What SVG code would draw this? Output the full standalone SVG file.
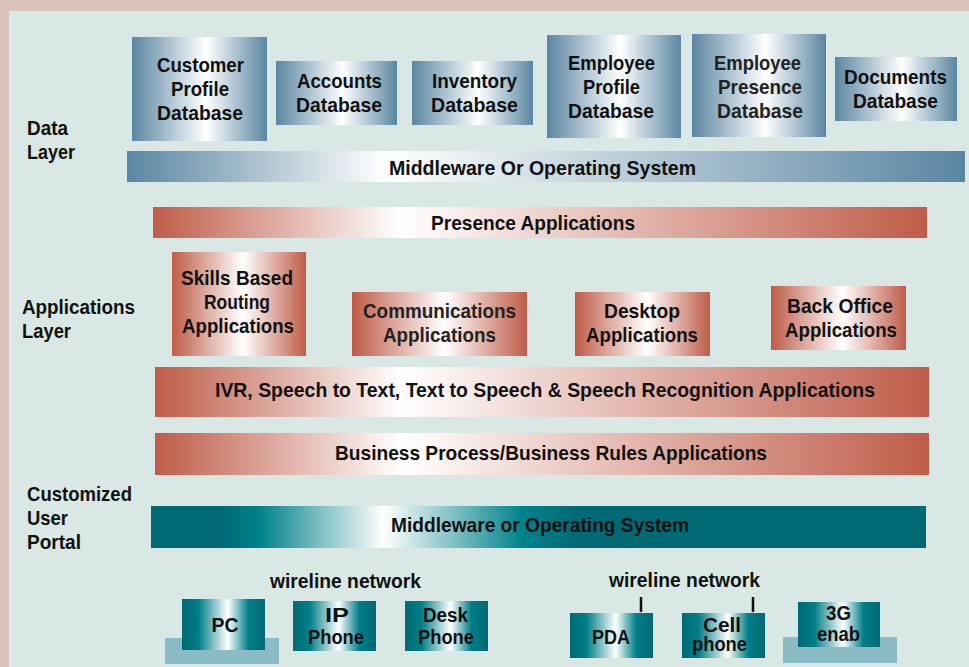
<svg xmlns="http://www.w3.org/2000/svg" width="969" height="667" viewBox="0 0 969 667">
  <defs>
    <!-- steel blue blocks: dark edges, bright centre -->
    <linearGradient id="gBlue" x1="0" y1="0" x2="1" y2="0">
      <stop offset="0" stop-color="#5a86a2"/>
      <stop offset="0.55" stop-color="#ffffff"/>
      <stop offset="1" stop-color="#5a86a2"/>
    </linearGradient>
    <linearGradient id="gBlueBar" x1="0" y1="0" x2="1" y2="0">
      <stop offset="0" stop-color="#5a86a2"/>
      <stop offset="0.31" stop-color="#ffffff"/>
      <stop offset="1" stop-color="#5a86a2"/>
    </linearGradient>
    <!-- terracotta application blocks -->
    <linearGradient id="gRed" x1="0" y1="0" x2="1" y2="0">
      <stop offset="0" stop-color="#bf5c48"/>
      <stop offset="0.53" stop-color="#ffffff"/>
      <stop offset="1" stop-color="#bf5c48"/>
    </linearGradient>
    <linearGradient id="gRedBar" x1="0" y1="0" x2="1" y2="0">
      <stop offset="0" stop-color="#bf5c48"/>
      <stop offset="0.32" stop-color="#ffffff"/>
      <stop offset="1" stop-color="#bf5c48"/>
    </linearGradient>
    <!-- teal portal blocks -->
    <linearGradient id="gTeal" x1="0" y1="0" x2="1" y2="0">
      <stop offset="0" stop-color="#006a74"/>
      <stop offset="0.2" stop-color="#007e88"/>
      <stop offset="0.55" stop-color="#ffffff"/>
      <stop offset="0.8" stop-color="#007e88"/>
      <stop offset="1" stop-color="#006a74"/>
    </linearGradient>
    <linearGradient id="gTealBar" x1="0" y1="0" x2="1" y2="0">
      <stop offset="0" stop-color="#006a74"/>
      <stop offset="0.09" stop-color="#006a74"/>
      <stop offset="0.14" stop-color="#00828b"/>
      <stop offset="0.30" stop-color="#ffffff"/>
      <stop offset="0.48" stop-color="#00828b"/>
      <stop offset="0.55" stop-color="#006a74"/>
      <stop offset="1" stop-color="#006a74"/>
    </linearGradient>
    <style>
      text { font-family: "Liberation Sans", Arial, sans-serif; font-weight: bold; fill: #111; font-size: 21px; }
      .c { text-anchor: middle; }
      .tight { font-size: 20px; }
      .blue { fill: url(#gBlue); }
      .blueBar { fill: url(#gBlueBar); }
      .red { fill: url(#gRed); }
      .redBar { fill: url(#gRedBar); }
      .teal { fill: url(#gTeal); }
      .tealBar { fill: url(#gTealBar); }
      .plinth { fill: #8bbcc5; }
      .tick { stroke: #111; stroke-width: 2.5; }
    </style>
  </defs>

  <!-- frame and panel -->
  <rect x="0" y="0" width="969" height="667" fill="#d8c2ba"/>
  <rect x="9" y="11" width="960" height="656" fill="#d9e8e4"/>

  <!-- layer captions -->
  <g id="captions">
    <text x="27" y="135" textLength="41" lengthAdjust="spacingAndGlyphs">Data</text>
    <text x="27" y="159" textLength="48" lengthAdjust="spacingAndGlyphs">Layer</text>
    <text x="22" y="314" textLength="113" lengthAdjust="spacingAndGlyphs">Applications</text>
    <text x="22" y="338" textLength="49" lengthAdjust="spacingAndGlyphs">Layer</text>
    <text x="27" y="501" textLength="105" lengthAdjust="spacingAndGlyphs">Customized</text>
    <text x="27" y="525" textLength="41" lengthAdjust="spacingAndGlyphs">User</text>
    <text x="27" y="549" textLength="54" lengthAdjust="spacingAndGlyphs">Portal</text>
  </g>

  <!-- data layer -->
  <g id="customer-profile-db">
    <rect class="blue" x="132" y="37" width="135" height="104"/>
    <text class="c" x="200.5" y="72" textLength="87" lengthAdjust="spacingAndGlyphs">Customer</text>
    <text class="c" x="200" y="96" textLength="58" lengthAdjust="spacingAndGlyphs">Profile</text>
    <text class="c" x="200" y="120" textLength="86" lengthAdjust="spacingAndGlyphs">Database</text>
  </g>
  <g id="accounts-db">
    <rect class="blue" x="276" y="61" width="121" height="64"/>
    <text class="c" x="339.5" y="88" textLength="85" lengthAdjust="spacingAndGlyphs">Accounts</text>
    <text class="c" x="339" y="112" textLength="86" lengthAdjust="spacingAndGlyphs">Database</text>
  </g>
  <g id="inventory-db">
    <rect class="blue" x="412" y="61" width="121" height="64"/>
    <text class="c" x="474.5" y="88" textLength="85" lengthAdjust="spacingAndGlyphs">Inventory</text>
    <text class="c" x="474.5" y="112" textLength="87" lengthAdjust="spacingAndGlyphs">Database</text>
  </g>
  <g id="employee-profile-db">
    <rect class="blue" x="547" y="35" width="134" height="103"/>
    <text class="c" x="611.5" y="70" textLength="87" lengthAdjust="spacingAndGlyphs">Employee</text>
    <text class="c" x="611.5" y="94" textLength="57" lengthAdjust="spacingAndGlyphs">Profile</text>
    <text class="c" x="611" y="118" textLength="86" lengthAdjust="spacingAndGlyphs">Database</text>
  </g>
  <g id="employee-presence-db">
    <rect class="blue" x="692" y="34" width="134" height="103"/>
    <text class="c" x="757.5" y="70" textLength="87" lengthAdjust="spacingAndGlyphs" style="fill:#222">Employee</text>
    <text class="c" x="760" y="94" textLength="84" lengthAdjust="spacingAndGlyphs" style="fill:#222">Presence</text>
    <text class="c" x="760" y="118" textLength="86" lengthAdjust="spacingAndGlyphs" style="fill:#222">Database</text>
  </g>
  <g id="documents-db">
    <rect class="blue" x="835" y="57" width="122" height="64"/>
    <text class="c" x="895.5" y="84" textLength="103" lengthAdjust="spacingAndGlyphs">Documents</text>
    <text class="c" x="895.5" y="108" textLength="85" lengthAdjust="spacingAndGlyphs">Database</text>
  </g>
  <g id="data-middleware">
    <rect class="blueBar" x="127" y="151" width="838" height="31"/>
    <text class="c" x="542.5" y="175" textLength="307" lengthAdjust="spacingAndGlyphs">Middleware Or  Operating System</text>
  </g>

  <!-- applications layer -->
  <g id="presence-apps">
    <rect class="redBar" x="153" y="207" width="774" height="31"/>
    <text class="c" x="533" y="230" textLength="204" lengthAdjust="spacingAndGlyphs">Presence Applications</text>
  </g>
  <g id="skills-routing">
    <rect class="red" x="172" y="252" width="134" height="104"/>
    <text class="c" x="237" y="285" textLength="112" lengthAdjust="spacingAndGlyphs">Skills Based</text>
    <text class="c" x="237" y="309" textLength="66" lengthAdjust="spacingAndGlyphs">Routing</text>
    <text class="c" x="238" y="333" textLength="112" lengthAdjust="spacingAndGlyphs">Applications</text>
  </g>
  <g id="communications-apps">
    <rect class="red" x="352" y="292" width="175" height="64"/>
    <text class="c" x="439.5" y="318" textLength="153" lengthAdjust="spacingAndGlyphs" style="fill:#222">Communications</text>
    <text class="c" x="439.5" y="342" textLength="113" lengthAdjust="spacingAndGlyphs" style="fill:#222">Applications</text>
  </g>
  <g id="desktop-apps">
    <rect class="red" x="575" y="292" width="135" height="64"/>
    <text class="c" x="642" y="318" textLength="76" lengthAdjust="spacingAndGlyphs">Desktop</text>
    <text class="c" x="642" y="342" textLength="112" lengthAdjust="spacingAndGlyphs">Applications</text>
  </g>
  <g id="back-office-apps">
    <rect class="red" x="771" y="286" width="135" height="64"/>
    <text class="c" x="840" y="313" textLength="106" lengthAdjust="spacingAndGlyphs">Back Office</text>
    <text class="c" x="841" y="337" textLength="112" lengthAdjust="spacingAndGlyphs">Applications</text>
  </g>
  <g id="speech-apps">
    <rect class="redBar" x="155" y="367" width="774" height="50"/>
    <text class="c" x="545" y="397" textLength="660" lengthAdjust="spacingAndGlyphs">IVR, Speech to Text, Text to Speech &amp; Speech Recognition Applications</text>
  </g>
  <g id="business-rules-apps">
    <rect class="redBar" x="155" y="433" width="774" height="42"/>
    <text class="c" x="551" y="460" textLength="432" lengthAdjust="spacingAndGlyphs">Business Process/Business Rules Applications</text>
  </g>

  <!-- customized user portal -->
  <g id="portal-middleware">
    <rect class="tealBar" x="151" y="506" width="775" height="42"/>
    <text class="c" x="540" y="532" textLength="298" lengthAdjust="spacingAndGlyphs">Middleware or Operating System</text>
  </g>

  <text class="c" x="345.5" y="588" textLength="151" lengthAdjust="spacingAndGlyphs">wireline network</text>
  <text class="c" x="684.5" y="587" textLength="151" lengthAdjust="spacingAndGlyphs">wireline network</text>

  <g id="pc">
    <rect class="plinth" x="165" y="638" width="114" height="26"/>
    <rect class="teal" x="182" y="599" width="83" height="51"/>
    <text class="c" x="225" y="632" textLength="27" lengthAdjust="spacingAndGlyphs">PC</text>
  </g>
  <g id="ip-phone">
    <rect class="teal" x="293" y="601" width="83" height="50"/>
    <text class="c" x="337" y="622" textLength="24" lengthAdjust="spacingAndGlyphs">IP</text>
    <text class="c" x="336" y="644" textLength="56" lengthAdjust="spacingAndGlyphs">Phone</text>
  </g>
  <g id="desk-phone">
    <rect class="teal" x="405" y="601" width="83" height="50"/>
    <text class="c" x="445.5" y="622" textLength="45" lengthAdjust="spacingAndGlyphs">Desk</text>
    <text class="c" x="446" y="644" textLength="56" lengthAdjust="spacingAndGlyphs">Phone</text>
  </g>
  <g id="pda">
    <rect class="teal" x="570" y="613" width="83" height="45"/>
    <text class="c" x="611" y="644" textLength="38" lengthAdjust="spacingAndGlyphs">PDA</text>
  </g>
  <g id="cell-phone">
    <rect class="teal" x="682" y="613" width="83" height="45"/>
    <text class="c tight" x="722" y="632" textLength="38" lengthAdjust="spacingAndGlyphs">Cell</text>
    <text class="c tight" x="719.5" y="651" textLength="55" lengthAdjust="spacingAndGlyphs">phone</text>
  </g>
  <g id="g3-enabled">
    <rect class="plinth" x="783" y="637" width="114" height="26"/>
    <rect class="teal" x="798" y="602" width="82" height="45"/>
    <text class="c" x="838.5" y="620" textLength="25" lengthAdjust="spacingAndGlyphs">3G</text>
    <text class="c" x="838.5" y="641" textLength="43" lengthAdjust="spacingAndGlyphs">enab</text>
  </g>

  <!-- network links -->
  <g id="connectors">
    <line class="tick" x1="641" y1="597" x2="641" y2="612"/>
    <line class="tick" x1="753" y1="597" x2="753" y2="612"/>
  </g>
</svg>
